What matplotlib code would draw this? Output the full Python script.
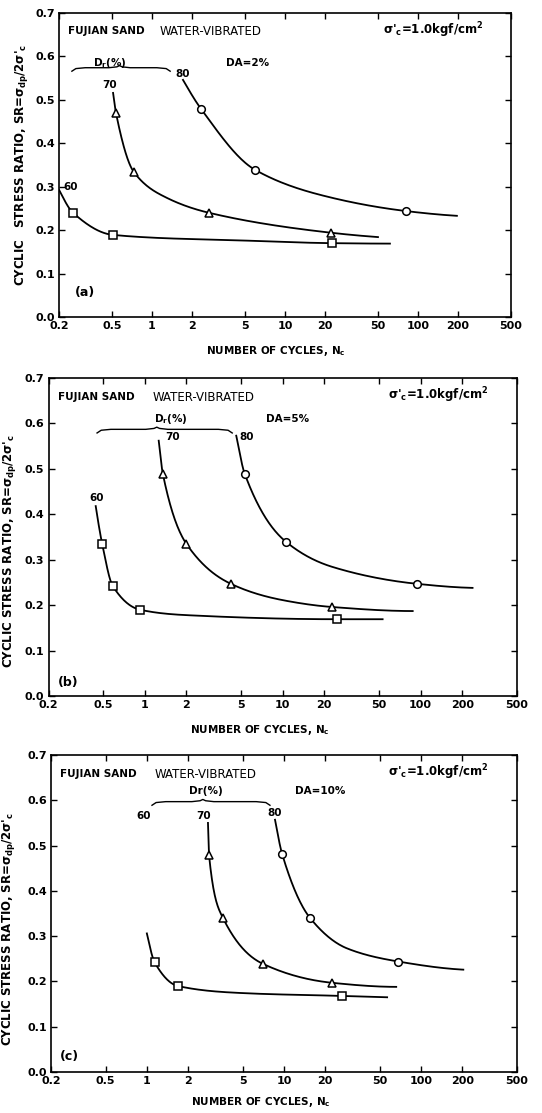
import numpy as np
import matplotlib
matplotlib.use("Agg")
import matplotlib.pyplot as plt

plt.rcParams['font.family'] = ['DejaVu Sans']
plt.rcParams['mathtext.default'] = 'regular'

# values: points along each curve, and which of them carry a marker
# panel (a) DA=2%
A60_N = [0.2, 0.255, 0.51, 5, 22.6, 61.5]
A60_SR = [0.293, 0.24, 0.189, 0.176, 0.17, 0.169]
A60_MARK = [1, 2, 4]
A70_N = [0.51, 0.536, 0.73, 1.3, 2.68, 22.2, 50]
A70_SR = [0.516, 0.47, 0.334, 0.274, 0.24, 0.194, 0.184]
A70_MARK = [1, 2, 4, 5]
A80_N = [1.71, 2.34, 5.95, 22.9, 81, 196]
A80_SR = [0.546, 0.479, 0.339, 0.274, 0.244, 0.233]
A80_MARK = [1, 2, 4]

# panel (b) DA=5%
B60_N = [0.44, 0.49, 0.585, 0.92, 2, 24.7, 53]
B60_SR = [0.418, 0.335, 0.242, 0.19, 0.178, 0.169, 0.169]
B60_MARK = [1, 2, 3, 5]
B70_N = [1.26, 1.35, 2.0, 4.2, 10, 22.6, 87.6]
B70_SR = [0.562, 0.489, 0.335, 0.247, 0.211, 0.196, 0.187]
B70_MARK = [1, 2, 3, 5]
B80_N = [4.6, 5.3, 10.5, 23, 93.7, 238]
B80_SR = [0.573, 0.489, 0.34, 0.284, 0.247, 0.238]
B80_MARK = [1, 2, 4]

# panel (c) DA=10%
C60_N = [1.0, 1.14, 1.68, 5.2, 26.4, 56.5]
C60_SR = [0.306, 0.242, 0.19, 0.174, 0.168, 0.165]
C60_MARK = [1, 2, 4]
C70_N = [2.79, 2.84, 3.59, 7.0, 22.4, 65.8]
C70_SR = [0.55, 0.479, 0.34, 0.239, 0.197, 0.188]
C70_MARK = [1, 2, 3, 4]
C80_N = [8.6, 9.7, 15.5, 28.8, 68, 203]
C80_SR = [0.557, 0.481, 0.34, 0.273, 0.244, 0.226]
C80_MARK = [1, 2, 4]

X_TICKS = [0.2, 0.5, 1, 2, 5, 10, 20, 50, 100, 200, 500]
X_LABELS = ['0.2', '0.5', '1', '2', '5', '10', '20', '50', '100', '200', '500']
Y_TICKS = [0.0, 0.1, 0.2, 0.3, 0.4, 0.5, 0.6, 0.7]


def smooth(n, sr, k=40):
    # monotone cubic (pchip) through the read points, in log-x space
    x = np.log10(n)
    y = np.array(sr, dtype=float)
    h = np.diff(x)
    d = np.diff(y) / h
    m = np.zeros_like(y)
    for i in range(1, len(y) - 1):
        if d[i - 1] * d[i] > 0:
            w1 = 2 * h[i] + h[i - 1]
            w2 = h[i] + 2 * h[i - 1]
            m[i] = (w1 + w2) / (w1 / d[i - 1] + w2 / d[i])

    def end(h0, h1, d0, d1):
        v = ((2 * h0 + h1) * d0 - h0 * d1) / (h0 + h1)
        if np.sign(v) != np.sign(d0):
            return 0.0
        if np.sign(d0) != np.sign(d1) and abs(v) > 3 * abs(d0):
            return 3 * d0
        return v

    m[0] = end(h[0], h[1], d[0], d[1])
    m[-1] = end(h[-1], h[-2], d[-1], d[-2])
    xs, ys = [], []
    for i in range(len(h)):
        t = np.linspace(0, 1, k)
        h00 = 2 * t**3 - 3 * t**2 + 1
        h10 = t**3 - 2 * t**2 + t
        h01 = -2 * t**3 + 3 * t**2
        h11 = t**3 - t**2
        xs.append(x[i] + t * h[i])
        ys.append(h00 * y[i] + h10 * h[i] * m[i] + h01 * y[i + 1] + h11 * h[i] * m[i + 1])
    return 10 ** np.concatenate(xs), np.concatenate(ys)


def brace(ax, x0, x1, xm, y):
    lx0, lx1, lxm = np.log10([x0, x1, xm])
    h = 0.008
    xs = [lx0, lx0 + 0.03, lx0 + 0.1, lxm - 0.08, lxm - 0.02, lxm, lxm + 0.02, lxm + 0.08, lx1 - 0.1, lx1 - 0.03, lx1]
    ys = [y - h, y - 0.002, y, y, y + 0.002, y + h * 0.6, y + 0.002, y, y, y - 0.002, y - h]
    ax.plot(10 ** np.array(xs), ys, color='black', lw=1.0)


fig = plt.figure(figsize=(5.42, 11.13), dpi=100)

YLAB = "STRESS RATIO, SR=σ$_{dp}$/2σ'$_c$"

panels = [
    dict(rect=[59 / 542, 1 - 317 / 1113, 452 / 542, 304 / 1113], tag='(a)', tagpos=(0.035, 0.079), da='DA=2%',
         curves=[(A60_N, A60_SR, A60_MARK, 's'), (A70_N, A70_SR, A70_MARK, '^'), (A80_N, A80_SR, A80_MARK, 'o')],
         lab60=(0.245, 0.30), lab70=(0.48, 0.535), lab80=(1.7, 0.56),
         br=(0.25, 1.37, 0.57, 0.574), dr=(0.48, 0.585), dapos=(5.2, 0.585),
         xl=(0.48, -0.089), yl=(-0.064, 0.5), ylab='CYCLIC   ' + YLAB, dr_text='D$_r$(%)'),
    dict(rect=[48.5 / 542, 1 - 696 / 1113, 468.5 / 542, 318 / 1113], tag='(b)', tagpos=(0.02, 0.041), da='DA=5%',
         curves=[(B60_N, B60_SR, B60_MARK, 's'), (B70_N, B70_SR, B70_MARK, '^'), (B80_N, B80_SR, B80_MARK, 'o')],
         lab60=(0.45, 0.435), lab70=(1.6, 0.57), lab80=(5.5, 0.57),
         br=(0.45, 4.3, 1.22, 0.587), dr=(1.55, 0.61), dapos=(10.9, 0.61),
         xl=(0.45, -0.085), yl=(-0.066, 0.456), ylab='CYCLIC ' + YLAB, dr_text='D$_r$(%)'),
    dict(rect=[51 / 542, 1 - 1072 / 1113, 466 / 542, 317 / 1113], tag='(c)', tagpos=(0.02, 0.05), da='DA=10%',
         curves=[(C60_N, C60_SR, C60_MARK, 's'), (C70_N, C70_SR, C70_MARK, '^'), (C80_N, C80_SR, C80_MARK, 'o')],
         lab60=(0.95, 0.566), lab70=(2.6, 0.566), lab80=(8.6, 0.573),
         br=(1.09, 7.9, 2.56, 0.597), dr=(2.7, 0.62), dapos=(18.3, 0.62),
         xl=(0.45, -0.073), yl=(-0.072, 0.45), ylab='CYCLIC ' + YLAB, dr_text='Dr(%)'),
]

for p in panels:
    ax = fig.add_axes(p['rect'])
    for n, sr, mark, m in p['curves']:
        xs, ys = smooth(n, sr)
        ax.plot(xs, ys, color='black', lw=1.3)
        ax.plot(np.array(n)[mark], np.array(sr)[mark], m, ms=5.5, mfc='white', mec='black', mew=1.1)

    ax.set_xscale('log')
    ax.set_xlim(0.2, 500)
    ax.set_ylim(0, 0.7)
    ax.set_xticks(X_TICKS)
    ax.set_xticklabels(X_LABELS)
    ax.xaxis.set_minor_locator(matplotlib.ticker.NullLocator())
    ax.set_yticks(Y_TICKS)
    ax.set_yticklabels(['%.1f' % v for v in Y_TICKS])
    ax.tick_params(direction='in', top=True, right=True, length=4, width=1.0, labelsize=8)
    ax.tick_params(axis='x', pad=3)
    ax.tick_params(axis='y', pad=3)
    for lab in ax.get_xticklabels() + ax.get_yticklabels():
        lab.set_fontweight('bold')
    for s in ax.spines.values():
        s.set_linewidth(1.2)

    ax.set_xlabel('NUMBER OF CYCLES, N$_c$', fontsize=7.5, fontweight='bold')
    ax.xaxis.set_label_coords(*p['xl'])
    ax.set_ylabel(p['ylab'], fontsize=8.5, fontweight='bold')
    ax.yaxis.set_label_coords(*p['yl'])

    ax.text(0.02, 0.94, 'FUJIAN SAND', transform=ax.transAxes, fontsize=7.5,
            fontweight='bold', va='center')
    ax.text(0.222, 0.94, 'WATER-VIBRATED', transform=ax.transAxes, fontsize=8.5, va='center')
    ax.text(0.94, 0.945, "σ'$_c$=1.0kgf/cm$^2$", transform=ax.transAxes, fontsize=8.5,
            fontweight='bold', ha='right', va='center')
    ax.text(*p['tagpos'], p['tag'], transform=ax.transAxes, fontsize=9, fontweight='bold', va='center')

    ax.text(*p['lab60'], '60', fontsize=7.5, fontweight='bold', ha='center', va='center')
    ax.text(*p['lab70'], '70', fontsize=7.5, fontweight='bold', ha='center', va='center')
    ax.text(*p['lab80'], '80', fontsize=7.5, fontweight='bold', ha='center', va='center')
    brace(ax, *p['br'])
    ax.text(*p['dr'], p['dr_text'], fontsize=7.5, fontweight='bold', ha='center', va='center')
    ax.text(*p['dapos'], p['da'], fontsize=7.5, fontweight='bold', ha='center', va='center')

fig.savefig('out.png', dpi=100)
